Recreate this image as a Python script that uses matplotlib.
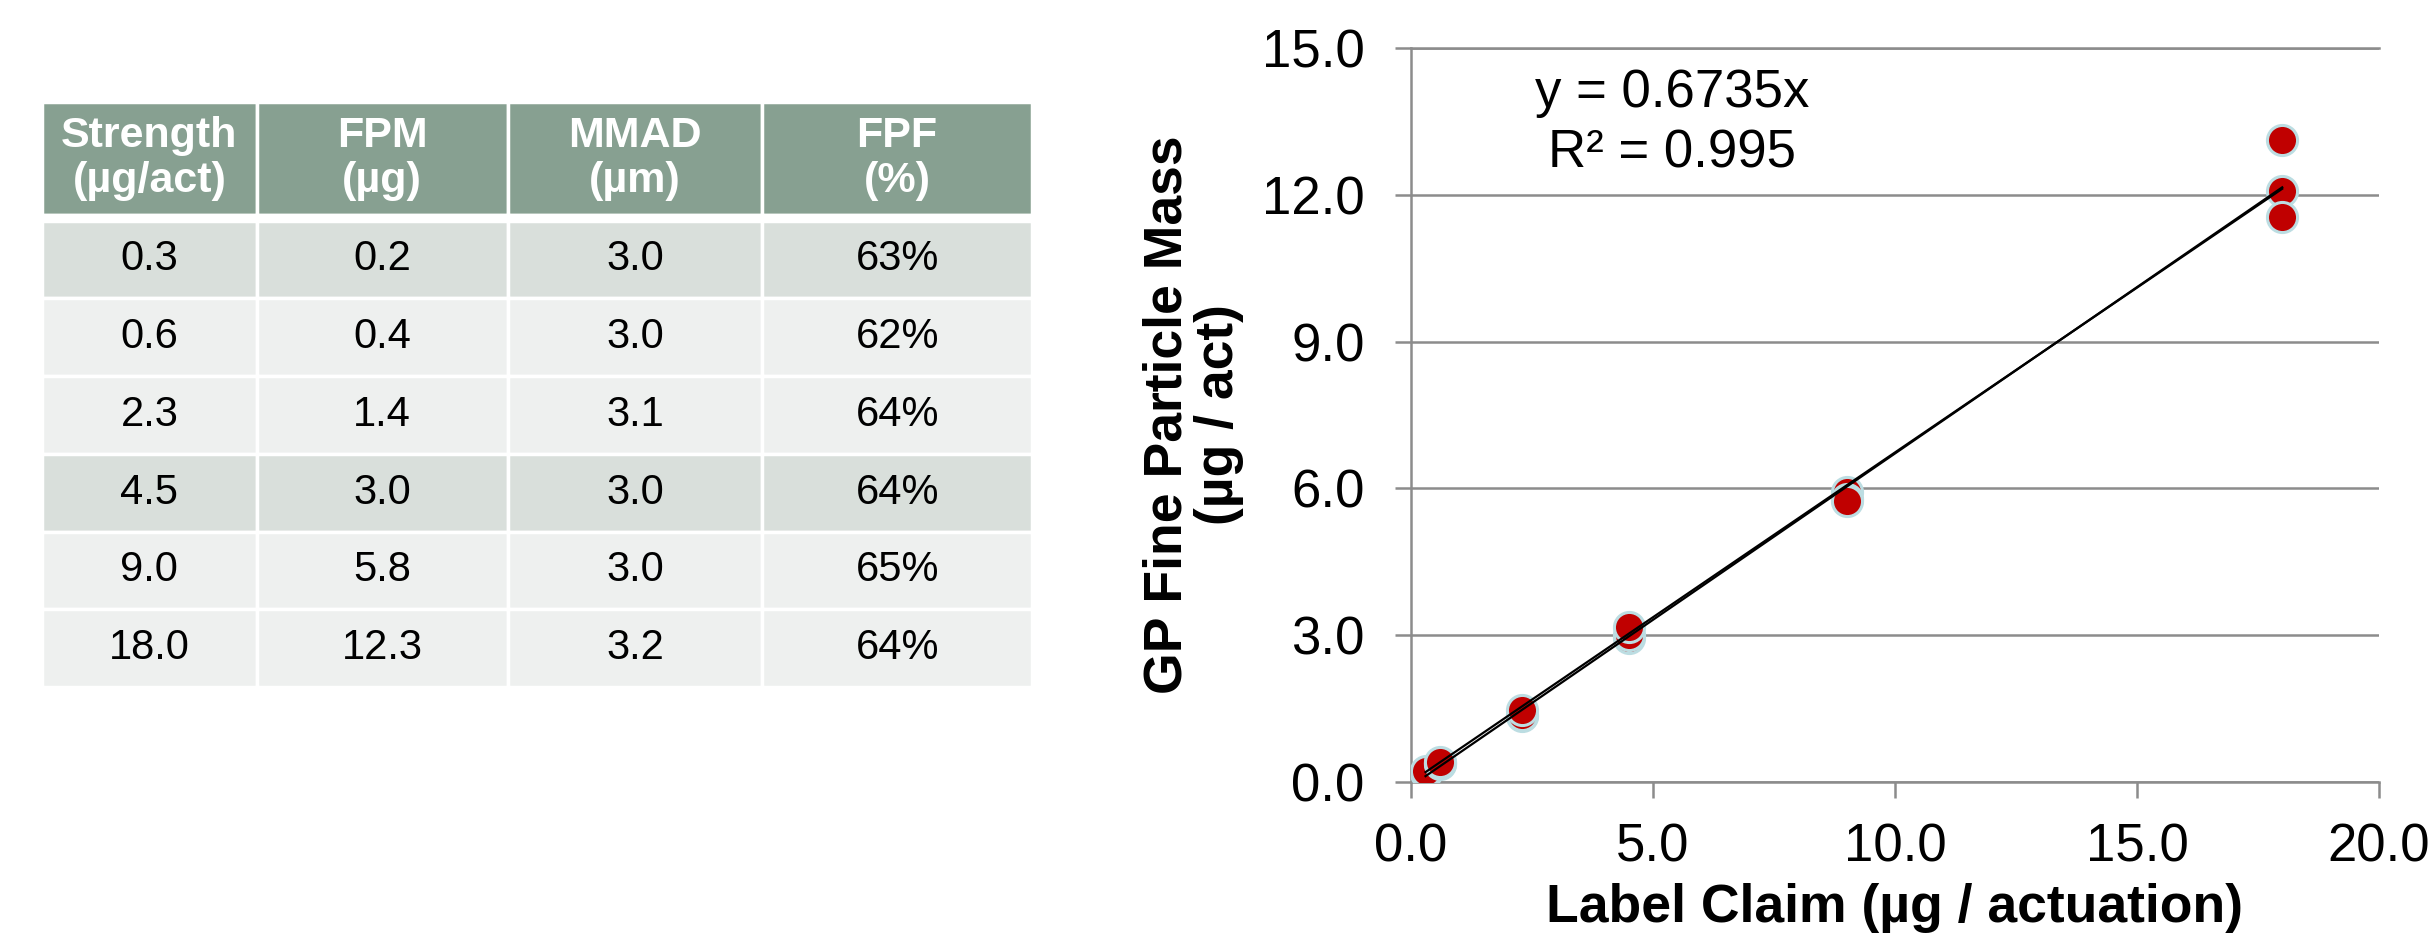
import numpy as np
import matplotlib
matplotlib.use("Agg")
import matplotlib.pyplot as plt

plt.rcParams['font.family'] = ['Liberation Sans', 'DejaVu Sans']

# ---- data ----
strength = ["0.3", "0.6", "2.3", "4.5", "9.0", "18.0"]
fpm = ["0.2", "0.4", "1.4", "3.0", "5.8", "12.3"]
mmad = ["3.0", "3.0", "3.1", "3.0", "3.0", "3.2"]
fpf = ["63%", "62%", "64%", "64%", "65%", "64%"]
col_labels = ["Strength\n(\u00b5g/act)", "FPM\n(\u00b5g)", "MMAD\n(\u00b5m)", "FPF\n(%)"]

label_claim = [0.3, 0.3, 0.3, 0.6, 0.6, 0.6, 2.3, 2.3, 2.3,
               4.5, 4.5, 4.5, 9.0, 9.0, 9.0, 18.0, 18.0, 18.0]
fine_mass = [0.19, 0.20, 0.22, 0.36, 0.38, 0.40, 1.34, 1.36, 1.48,
             2.94, 3.00, 3.17, 5.92, 5.78, 5.75, 13.13, 12.08, 11.55]
slope = 0.6735
r2_text = "R\u00b2 = 0.995"

W, H = 2430, 940
fig = plt.figure(figsize=(W / 100, H / 100), dpi=100)

# ---- table ----
header_c = "#87A091"
dark_c = "#D9DFDB"
light_c = "#EEF0EF"
row_colors = [dark_c, light_c, light_c, dark_c, light_c, light_c]

tx0, ty0, tx1, ty1 = 42, 102, 1032, 687
axt = fig.add_axes([tx0 / W, 1 - ty1 / H, (tx1 - tx0) / W, (ty1 - ty0) / H])
axt.axis("off")
cell_text = [[strength[i], fpm[i], mmad[i], fpf[i]] for i in range(6)]
rows_all = [col_labels, ["", "", "", ""]] + cell_text
colours = [[header_c] * 4, ["white"] * 4] + [[c] * 4 for c in row_colors]
col_w = [215, 251, 255, 270]
col_w = [c / sum(col_w) for c in col_w]
tbl = axt.table(cellText=rows_all, cellColours=colours, colWidths=col_w,
                cellLoc="center", bbox=[0, 0, 1, 1])
tbl.auto_set_font_size(False)
heights = [113, 6] + [78] * 6
for (r, c), cell in tbl.get_celld().items():
    cell.set_height(heights[r] / sum(heights))
    cell.set_edgecolor("white")
    cell.set_linewidth(2.5)
    t = cell.get_text()
    if r == 0:
        t.set_fontsize(31)
        t.set_color("white")
        t.set_fontweight("bold")
        t.set_linespacing(1.15)
    else:
        t.set_fontsize(30)
        t.set_color("black")

# ---- scatter chart ----
ax_l, ax_r, ax_t, ax_b = 1411, 2379, 48, 782
ax = fig.add_axes([ax_l / W, 1 - ax_b / H, (ax_r - ax_l) / W, (ax_b - ax_t) / H])
grid_c = "#8C8C8C"
ax.set_xlim(0, 20)
ax.set_ylim(0, 15)
ax.set_xticks([0, 5, 10, 15, 20])
ax.set_xticklabels([f"{v:.1f}" for v in [0, 5, 10, 15, 20]])
ax.set_yticks([0, 3, 6, 9, 12, 15])
ax.set_yticklabels([f"{v:.1f}" for v in [0, 3, 6, 9, 12, 15]])
ax.grid(axis="y", color=grid_c, linewidth=1.8)
ax.set_axisbelow(True)
ax.spines["right"].set_visible(False)
for s in ["left", "bottom", "top"]:
    ax.spines[s].set_color(grid_c)
    ax.spines[s].set_linewidth(1.8)
ax.tick_params(axis="both", direction="out", length=11.5, width=1.8,
               color=grid_c, labelsize=38)
ax.tick_params(axis="y", pad=22)
ax.tick_params(axis="x", pad=18)

ax.scatter(label_claim, fine_mass, s=470, color="#C00000",
           edgecolors="#BCDDE2", linewidths=2.2, zorder=3)

xs = np.array([min(label_claim), max(label_claim)])
ax.plot(xs, slope * xs, color="black", linewidth=1.6, zorder=4)
p = np.polyfit(label_claim, fine_mass, 1)
ax.plot(xs, p[0] * xs + p[1], color="black", linewidth=1.6, zorder=4)

fig.text(1672 / W, 1 - 93 / H, f"y = {slope}x", fontsize=38,
         ha="center", va="center")
fig.text(1672 / W, 1 - 153 / H, r2_text, fontsize=38, ha="center", va="center")

fig.text(1193 / W, 1 - 415 / H, "GP Fine Particle Mass\n(\u00b5g / act)",
         rotation=90, fontsize=38.5, fontweight="bold", ha="center", va="center",
         linespacing=1.05, rotation_mode="anchor")
fig.text(1895 / W, 1 - 908 / H, "Label Claim (\u00b5g / actuation)",
         fontsize=38.5, fontweight="bold", ha="center", va="center")

fig.savefig("out.png", dpi=100)
